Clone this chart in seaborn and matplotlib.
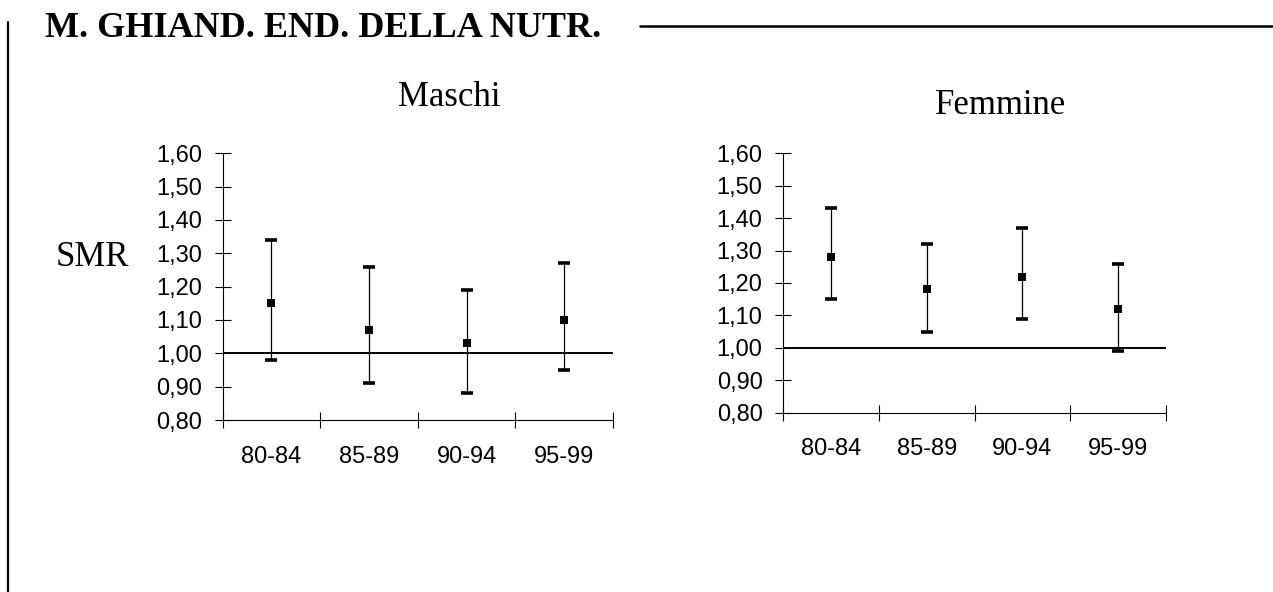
import numpy as np
import matplotlib
matplotlib.use("Agg")
import matplotlib.pyplot as plt
from matplotlib.lines import Line2D
from matplotlib.ticker import FixedLocator, NullFormatter
import seaborn as sns

# -----------------------------
# DATA
# -----------------------------
periods = ["80-84", "85-89", "90-94", "95-99"]

smr_maschi = [1.15, 1.07, 1.03, 1.10]
low_maschi = [0.98, 0.91, 0.88, 0.95]
high_maschi = [1.34, 1.26, 1.19, 1.27]

smr_femmine = [1.28, 1.18, 1.22, 1.12]
low_femmine = [1.15, 1.05, 1.09, 0.99]
high_femmine = [1.43, 1.32, 1.37, 1.26]

y_ticks = [0.80, 0.90, 1.00, 1.10, 1.20, 1.30, 1.40, 1.50, 1.60]
ref_value = 1.00

sns.set_theme(style="white")
plt.rcParams["font.family"] = ["Liberation Sans", "DejaVu Sans"]
plt.rcParams["text.color"] = "black"

W, H = 1273, 592
fig = plt.figure(figsize=(W / 100, H / 100), dpi=100)

ax_m = fig.add_axes([222.7 / W, 1 - 420 / H, 390.3 / W, 266.7 / H])
ax_f = fig.add_axes([783.3 / W, 1 - 412.7 / H, 382.7 / W, 259.4 / H])


def draw_panel(ax, smr, low, high, label_pad):
    x = np.arange(len(periods)) + 0.5
    smr = np.array(smr)
    yerr = [smr - np.array(low), np.array(high) - smr]
    ax.errorbar(x, smr, yerr=yerr, fmt="none", ecolor="black", elinewidth=0.9,
                capsize=4.3, capthick=2.6, zorder=2)
    sns.scatterplot(x=x, y=smr, ax=ax, marker="s", s=30, color="black",
                    edgecolor="black", linewidth=0, zorder=3)
    ax.axhline(ref_value, color="black", lw=1.4, zorder=1)

    ax.set_xlim(0, len(periods))
    ax.set_ylim(0.80, 1.60)
    ax.set_yticks(y_ticks)
    ax.set_yticklabels([f"{v:.2f}".replace(".", ",") for v in y_ticks], fontsize=17)

    # category boundaries as major ticks, labels on minor ticks at centres
    ax.xaxis.set_major_locator(FixedLocator(np.arange(len(periods) + 1)))
    ax.xaxis.set_major_formatter(NullFormatter())
    ax.xaxis.set_minor_locator(FixedLocator(x))
    ax.set_xticklabels(periods, minor=True, fontsize=17)

    ax.tick_params(axis="both", which="major", direction="inout", length=11,
                   width=0.8, color="black", labelcolor="black", pad=9.4)
    ax.tick_params(axis="x", which="minor", length=0, pad=label_pad,
                   labelcolor="black")
    ax.tick_params(left=True, bottom=True)

    for side in ["top", "right"]:
        ax.spines[side].set_visible(False)
    for side in ["left", "bottom"]:
        ax.spines[side].set_color("black")
        ax.spines[side].set_linewidth(0.8)
    ax.set_xlabel("")
    ax.set_ylabel("")
    ax.grid(False)


draw_panel(ax_m, smr_maschi, low_maschi, high_maschi, 19)
draw_panel(ax_f, smr_femmine, low_femmine, high_femmine, 18)

serif = ["Liberation Serif", "DejaVu Serif"]
fig.text(45 / W, 1 - 37 / H, "M. GHIAND. END. DELLA NUTR.", family=serif,
         fontsize=26, fontweight="bold", color="black", ha="left", va="baseline")
fig.text(449 / W, 1 - 106 / H, "Maschi", family=serif, fontsize=25,
         color="black", ha="center", va="baseline")
fig.text(1001 / W, 1 - 114 / H, "Femmine", family=serif, fontsize=25,
         color="black", ha="center", va="baseline")
fig.text(92 / W, 1 - 266 / H, "SMR", family=serif, fontsize=25,
         color="black", ha="center", va="baseline")

# page decoration lines
fig.add_artist(Line2D([8 / W, 8 / W], [1 - 22 / H, 0], transform=fig.transFigure,
                      color="black", lw=1.6))
fig.add_artist(Line2D([640 / W, 1 - 0.5 / W], [1 - 25.5 / H, 1 - 25.5 / H],
                      transform=fig.transFigure, color="black", lw=1.8))

fig.savefig("out.png", dpi=100, facecolor="white")
